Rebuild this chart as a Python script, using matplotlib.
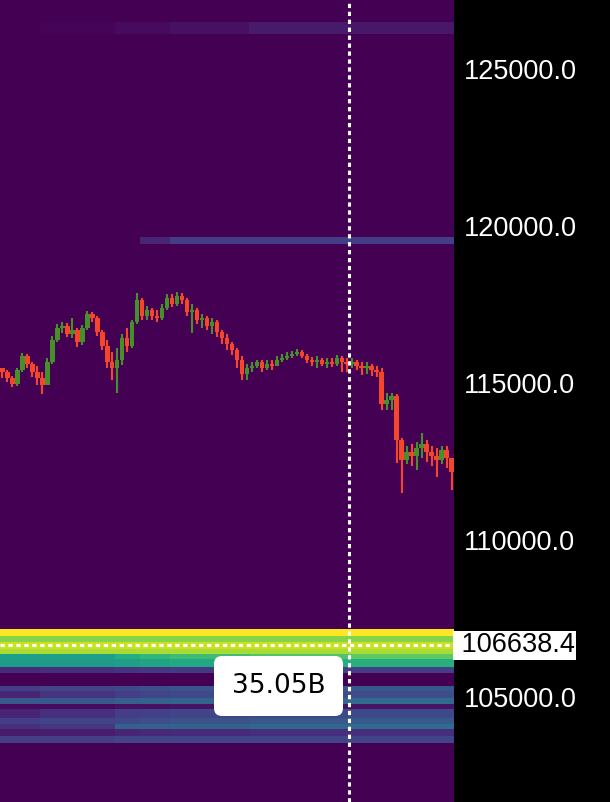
import numpy as np
import matplotlib
matplotlib.use("Agg")
import matplotlib.pyplot as plt
from matplotlib.patches import FancyBboxPatch
from matplotlib.transforms import IdentityTransform, blended_transform_factory


# ====== CANDLES (price, one per time step) ======
closes = [
    115350, 115160, 114970, 115420, 115860, 115610, 115350, 115160, 114940, 115670,
    116370, 116760, 116820, 116570, 116690, 116310, 116760, 117200, 117080, 116630,
    116180, 115670, 115480, 115730, 116440, 116180, 116950, 117650, 117140, 117330,
    117140, 117080, 117400, 117720, 117520, 117780, 117650, 117270, 117330, 117010,
    117080, 116820, 116950, 116630, 116440, 116250, 116050, 115730, 115290, 115480,
    115540, 115670, 115480, 115610, 115540, 115730, 115800, 115860, 115930, 115990,
    115860, 115730, 115670, 115730, 115610, 115670, 115610, 115800, 115670, 115610,
    115670, 115540, 115480, 115540, 115420, 115350, 114330, 114460, 114580, 113180,
    112540, 112800, 112670, 112920, 113050, 112800, 112670, 112540, 112860, 112600,
    112160,
]
first_open = 115480
highs = [
    115480, 115420, 115220, 115480, 115960, 115930, 115670, 115540, 115350, 115800,
    116500, 116890, 116950, 116920, 117080, 116760, 116850, 117300, 117270, 117140,
    116690, 116370, 115990, 116120, 116570, 116760, 117010, 117880, 117720, 117460,
    117400, 117330, 117520, 117840, 117840, 117910, 117880, 117720, 117520, 117400,
    117200, 117140, 117080, 117010, 116690, 116570, 116310, 116120, 115860, 115610,
    115670, 115730, 115730, 115730, 115730, 115860, 115930, 115990, 116020, 116090,
    116050, 115930, 115830, 115860, 115800, 115800, 115800, 115890, 115860, 115800,
    115800, 115730, 115670, 115670, 115610, 115540, 115480, 114680, 114680, 114650,
    113240, 112990, 113050, 113120, 113400, 113180, 112990, 112920, 112990, 112990,
    112600,
]
lows = [
    115160, 115030, 114870, 114900, 115350, 115480, 115190, 114940, 114650, 114940,
    115610, 116310, 116600, 116470, 116440, 116150, 116210, 116690, 116950, 116500,
    116050, 115480, 115100, 114680, 115580, 115990, 116120, 116890, 117010, 117010,
    117010, 116950, 117010, 117330, 117430, 117460, 117520, 117140, 116600, 116890,
    116760, 116690, 116570, 116470, 116250, 116050, 115890, 115480, 115100, 115100,
    115350, 115480, 115350, 115420, 115420, 115540, 115670, 115730, 115800, 115860,
    115800, 115640, 115540, 115480, 115540, 115480, 115510, 115540, 115350, 115350,
    115480, 115420, 115260, 115290, 115220, 115190, 114140, 114140, 114140, 112440,
    111490, 112410, 112350, 112220, 112600, 112480, 112350, 112000, 112410, 112280,
    111580,
]

# ====== HEATMAP (liquidity bands) ======
time_edges = [-0.5, 7.5, 22.5, 27.5, 33.5, 49.5, 69.5, 90.5]
band_lo = [103530, 103754, 103978, 104137, 104329, 104616, 104776, 104968, 105192,
           105767, 105958, 106214, 106374, 106532, 106757, 106948,
           119441, 126118]
band_hi = [103754, 103978, 104137, 104329, 104616, 104776, 104968, 105192, 105351,
           105958, 106214, 106374, 106532, 106757, 106948, 107172,
           119665, 126502]
band_vals = [
    [0.18, 0.18, 0.20, 0.20, 0.20, 0.20, 0.20],
    [0.07, 0.08, 0.10, 0.11, 0.12, 0.13, 0.13],
    [0.14, 0.16, 0.30, 0.30, 0.31, 0.33, 0.35],
    [0.18, 0.20, 0.22, 0.24, 0.25, 0.27, 0.28],
    [0.10, 0.14, 0.18, 0.19, 0.20, 0.22, 0.22],
    [0.03, 0.03, 0.04, 0.04, 0.05, 0.05, 0.05],
    [0.28, 0.28, 0.30, 0.31, 0.32, 0.33, 0.34],
    [0.10, 0.15, 0.18, 0.20, 0.22, 0.23, 0.23],
    [0.18, 0.20, 0.22, 0.24, 0.25, 0.26, 0.27],
    [0.12, 0.13, 0.15, 0.16, 0.17, 0.18, 0.18],
    [0.55, 0.55, 0.56, 0.58, 0.60, 0.62, 0.63],
    [0.56, 0.56, 0.62, 0.66, 0.69, 0.72, 0.75],
    [0.87, 0.87, 0.87, 0.87, 0.87, 0.87, 0.87],
    [0.92, 0.92, 0.92, 0.92, 0.92, 0.92, 0.92],
    [0.82, 0.82, 0.82, 0.82, 0.82, 0.82, 0.82],
    [1.00, 1.00, 1.00, 1.00, 1.00, 1.00, 1.00],
    [0.00, 0.00, 0.00, 0.10, 0.18, 0.18, 0.18],
    [0.00, 0.01, 0.03, 0.03, 0.04, 0.07, 0.06],
]

current_price = 106638.4
cursor_t = 69.45
tooltip_text = "35.05B"
yticks = [105000, 110000, 115000, 120000, 125000]

UP = "#46902c"
DOWN = "#f5452b"


def main():
    fig = plt.figure(figsize=(6.1, 8.02), dpi=100, facecolor="black")
    ax = fig.add_axes([0, 0, 454 / 610, 1])
    cmap = plt.get_cmap("viridis")
    ax.set_facecolor(cmap(0.0))

    # heatmap bands
    for lo, hi, vals in zip(band_lo, band_hi, band_vals):
        ax.pcolormesh(time_edges, [lo, hi], np.array([vals]), cmap=cmap,
                      vmin=0, vmax=1, shading="flat", zorder=1, antialiased=False)

    # candles
    opens = [first_open] + closes[:-1]
    t = np.arange(len(closes))
    for i, (o, c, h, l) in enumerate(zip(opens, closes, highs, lows)):
        col = UP if c >= o else DOWN
        ax.vlines(t[i], l, h, color=col, linewidth=1.5, zorder=3)
        ax.bar(t[i], abs(c - o) if c != o else 20, bottom=min(o, c), width=0.9,
               color=col, linewidth=0, zorder=3)

    # crosshair + current price line
    ax.axvline(cursor_t, color="white", linewidth=2.2, linestyle=(0, (1.4, 1.2)), zorder=5)
    ax.axhline(current_price, color="white", linewidth=2.2, linestyle=(0, (1.4, 1.2)), zorder=5)

    ax.set_xlim(-0.5, 90.5)
    ax.set_ylim(101650, 127200)
    for s in ax.spines.values():
        s.set_visible(False)
    ax.set_xticks([])
    ax.yaxis.tick_right()
    ax.set_yticks(yticks)
    ax.set_yticklabels([f"{v:.1f}" for v in yticks])
    ax.tick_params(axis="y", length=0, pad=7, labelcolor="white", labelsize=19.5)
    for lab in ax.get_yticklabels():
        lab.set_fontfamily("Liberation Sans")

    # current price label on the axis
    tr = blended_transform_factory(ax.transAxes, ax.transData)
    ax.text(1.0, current_price, f" {current_price:.1f}", transform=tr, ha="left",
            va="center", fontsize=19.5, family="Liberation Sans", color="black",
            bbox=dict(boxstyle="square,pad=0.05", fc="white", ec="none"),
            clip_on=False, zorder=6)

    # tooltip
    box = FancyBboxPatch((214, 802 - 716), 129, 60,
                         boxstyle="round,pad=0,rounding_size=8",
                         fc="white", ec="none", transform=IdentityTransform(),
                         zorder=7)
    fig.patches.append(box)
    fig.text(278.5 / 610, 1 - 686 / 802, tooltip_text, ha="center", va="center",
             fontsize=19, family="DejaVu Sans", color="black", zorder=8)

    fig.savefig("out.png", dpi=100, facecolor="black")
    plt.close(fig)


if __name__ == "__main__":
    main()
